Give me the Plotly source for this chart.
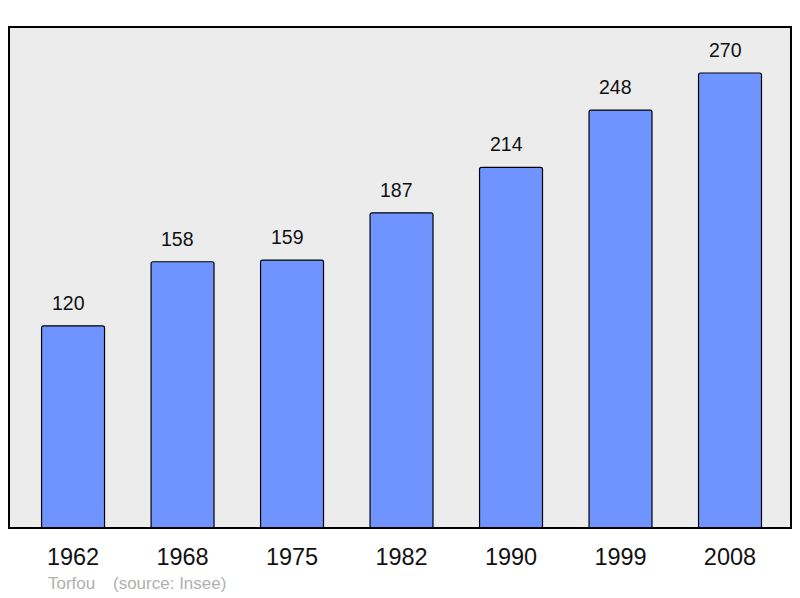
import plotly.graph_objects as go

years = ["1962", "1968", "1975", "1982", "1990", "1999", "2008"]
population = [120, 158, 159, 187, 214, 248, 270]
commune = "Torfou"
source = "(source: Insee)"

x_idx = list(range(len(years)))
FONT = "Liberation Sans, Arial, sans-serif"

fig = go.Figure()
fig.add_trace(go.Bar(
    x=x_idx, y=population, width=0.575,
    marker=dict(color="#7094FF", line=dict(color="#000000", width=1.2), cornerradius=2),
    hoverinfo="skip",
))

for i, v in zip(x_idx, population):
    fig.add_annotation(x=i, y=v, text=str(v), showarrow=False, yanchor="bottom",
                       yshift=10, xshift=-5, font=dict(size=19.5, color="#111111", family=FONT))

fig.add_annotation(xref="paper", yref="paper", x=(46-9)/782, y=-0.11, xanchor="left", yanchor="middle",
                   text=commune, showarrow=False,
                   font=dict(size=17, color="#b0b0b0", family=FONT))
fig.add_annotation(xref="paper", yref="paper", x=(111-9)/782, y=-0.11, xanchor="left", yanchor="middle",
                   text=source, showarrow=False,
                   font=dict(size=17, color="#b0b0b0", family=FONT))

fig.add_shape(type="rect", xref="paper", yref="paper", x0=0, x1=1, y0=0, y1=1,
              line=dict(color="#000000", width=2), layer="above")

fig.update_layout(
    width=792, height=590,
    margin=dict(l=1, r=9, t=19, b=70, pad=0),
    paper_bgcolor="#ffffff", plot_bgcolor="#ececec",
    showlegend=False,
    font=dict(family=FONT),
    xaxis=dict(range=[-0.585, 6.557], tickmode="array", tickvals=x_idx, ticktext=years,
               showgrid=False, zeroline=False, showline=False,
               ticks="outside", ticklen=8, tickcolor="rgba(0,0,0,0)",
               tickfont=dict(size=23.5, color="#111111")),
    yaxis=dict(range=[0, 297.3], showgrid=False, zeroline=False, showline=False,
               showticklabels=False, ticks=""),
)

fig.write_html("out.html")
